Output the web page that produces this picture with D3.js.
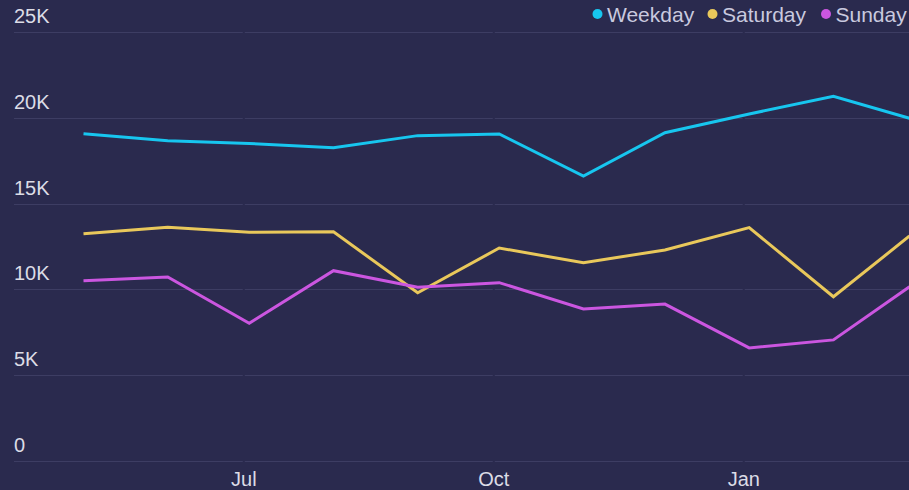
<!DOCTYPE html>
<html>
<head>
<meta charset="utf-8">
<script src="https://cdn.jsdelivr.net/npm/d3@7"></script>
<style>
  html, body { margin: 0; padding: 0; background: #2a2a4e; }
  svg { display: block; font-family: "Liberation Sans", Arial, sans-serif; }
</style>
</head>
<body>
<div id="chart"></div>
<script>
// Monthly dates (sampled on the 3rd of each month)
const dates = ["2018-05-03", "2018-06-03", "2018-07-03", "2018-08-03", "2018-09-03",
  "2018-10-03", "2018-11-03", "2018-12-03", "2019-01-03", "2019-02-03", "2019-03-03"];

const weekday = [19080, 18670, 18510, 18270, 18970, 19070, 16610, 19140, 20230, 21270, 19980];
const saturday = [13250, 13620, 13330, 13360, 9800, 12410, 11550, 12300, 13600, 9570, 13110];
const sunday = [10500, 10720, 8020, 11090, 10120, 10390, 8850, 9140, 6580, 7050, 10150];

const seriesNames = ["Weekday", "Saturday", "Sunday"];
const seriesColors = ["#17c6ef", "#e9c85b", "#cb56e0"];
const yTicks = [0, 5000, 10000, 15000, 20000, 25000];
const xTickDates = ["2018-07-01", "2018-10-01", "2019-01-01"];

const width = 909;
const height = 490;
const parse = d3.timeParse("%Y-%m-%d");

const svg = d3.select("#chart").append("svg")
    .attr("width", width)
    .attr("height", height);

svg.append("rect")
    .attr("width", width)
    .attr("height", height)
    .attr("fill", "#2a2a4e");

const x = d3.scaleTime()
    .domain([parse(dates[0]), parse(dates[dates.length - 1])])
    .range([83.5, 909.5]);

const y = d3.scaleLinear()
    .domain([0, 25000])
    .range([460.7, 32.3]);

// Gridlines, broken by a small gap at each x tick
const tickXs = xTickDates.map(d => x(parse(d)));
const segs = [];
let start = 14;
tickXs.forEach(t => { segs.push([start, t - 1]); start = t + 1; });
segs.push([start, width]);

yTicks.forEach(v => {
  segs.forEach(s => {
    svg.append("line")
        .attr("x1", s[0]).attr("x2", s[1])
        .attr("y1", Math.round(y(v)) + 0.5).attr("y2", Math.round(y(v)) + 0.5)
        .attr("stroke", "#3d3d63")
        .attr("stroke-width", 1);
  });
});

// Y tick labels
svg.selectAll(".ylabel")
    .data(yTicks)
    .enter().append("text")
    .attr("class", "ylabel")
    .attr("x", 14)
    .attr("y", d => y(d) - 9)
    .attr("fill", "#dcdce6")
    .attr("font-size", 20)
    .text(d => d === 0 ? "0" : d3.format("d")(d / 1000) + "K");

// X tick labels
svg.selectAll(".xlabel")
    .data(xTickDates)
    .enter().append("text")
    .attr("class", "xlabel")
    .attr("x", d => x(parse(d)))
    .attr("y", 486)
    .attr("text-anchor", "middle")
    .attr("fill", "#dcdce6")
    .attr("font-size", 20)
    .text(d => d3.timeFormat("%b")(parse(d)));

// Lines
const allSeries = [weekday, saturday, sunday];
const line = d3.line()
    .x((d, i) => x(parse(dates[i])))
    .y(d => y(d));

allSeries.forEach((s, k) => {
  svg.append("path")
      .datum(s)
      .attr("fill", "none")
      .attr("stroke", seriesColors[k])
      .attr("stroke-width", 3)
      .attr("stroke-linejoin", "miter")
      .attr("d", line);
});

// Legend, top right
const legendX = [597.5, 712.5, 826];
const legend = svg.selectAll(".legend")
    .data(seriesNames)
    .enter().append("g")
    .attr("class", "legend")
    .attr("transform", (d, i) => `translate(${legendX[i]},14)`);

legend.append("circle")
    .attr("r", 5)
    .attr("fill", (d, i) => seriesColors[i]);

legend.append("text")
    .attr("x", 9.5)
    .attr("y", 7.5)
    .attr("fill", "#c9c9df")
    .attr("font-size", 21)
    .text(d => d);
</script>
</body>
</html>
